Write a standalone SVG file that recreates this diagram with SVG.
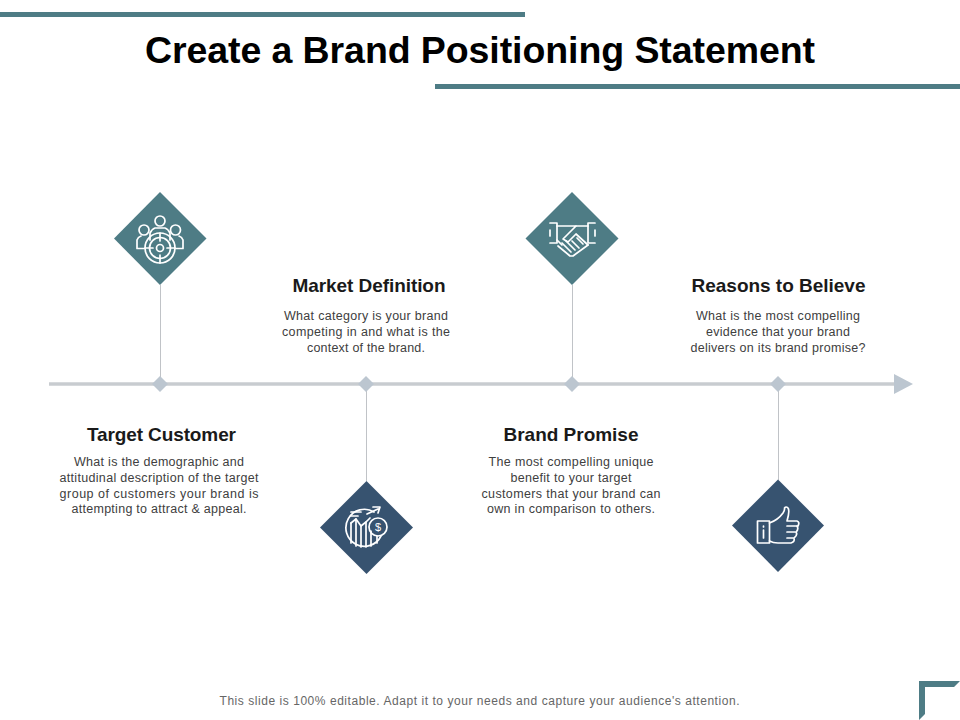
<svg xmlns="http://www.w3.org/2000/svg" width="960" height="720" viewBox="0 0 960 720">
<style>
text{font-family:"Liberation Sans",Arial,sans-serif;text-anchor:middle}
.t{font-size:37.500px;font-weight:700;fill:#000}
.h{font-size:19px;font-weight:700;fill:#1a1a1a}
.b{font-size:12.500px;fill:#404040}
.f{font-size:12px;fill:#666}
.i{fill:none;stroke:#fff;stroke-width:1.700;stroke-linejoin:round;stroke-linecap:round}
.st{stroke:#c0c3c7;stroke-width:1;fill:none}
.bar{fill:#4e7c85}
</style>
<rect width="960" height="720" fill="#fff"/>
<rect class="bar" x="0" y="12" width="525" height="5"/>
<rect class="bar" x="435" y="84" width="525" height="5"/>
<text class="t" x="480" y="62.500" textLength="670" lengthAdjust="spacing">Create a Brand Positioning Statement</text>
<g id="connectors">
<line x1="49" y1="384" x2="896" y2="384" stroke="#c8ccd0" stroke-width="3.500"/>
<polygon points="894,374 913,384 894,394" fill="#bcc6d0"/>
<line class="st" x1="160.500" y1="285" x2="160.500" y2="384"/>
<line class="st" x1="366.500" y1="384" x2="366.500" y2="481"/>
<line class="st" x1="572.500" y1="285" x2="572.500" y2="384"/>
<line class="st" x1="778.500" y1="384" x2="778.500" y2="480"/>
<g fill="#bcc6d0">
<polygon points="160,376 168,384 160,392 152,384"/>
<polygon points="366,376 374,384 366,392 358,384"/>
<polygon points="572,376 580,384 572,392 564,384"/>
<polygon points="778,376 786,384 778,392 770,384"/>
</g>
</g>
<g id="node-target-customer">
<polygon points="160,192 206.500,238.500 160,285 114,238.500" fill="#4e7c85"/>
<g class="i">
<circle cx="160" cy="221" r="5"/><circle cx="144" cy="230" r="5"/><circle cx="175.500" cy="230" r="5"/>
<path d="M150 240V233Q152 229 155 228H165Q168 229 170 233V240"/>
<path d="M137 248.500V240Q138 237 141 236M183 248.500V240Q182 237 179 236M137 248.500H144M183 248.500H176"/>
<circle cx="160" cy="248" r="15"/><circle cx="160" cy="248" r="10.500"/><circle cx="160" cy="248" r="3.500"/>
<path d="M160 233V241M160 255V263M145 248H153M167 248H175"/>
</g>
<text class="h" x="161.500" y="441" textLength="149" lengthAdjust="spacing">Target Customer</text>
<text class="b" x="159" y="466" textLength="170" lengthAdjust="spacing">What is the demographic and</text>
<text class="b" x="159" y="482" textLength="199" lengthAdjust="spacing">attitudinal description of the target</text>
<text class="b" x="159" y="498" textLength="199" lengthAdjust="spacing">group of customers  your brand is</text>
<text class="b" x="159" y="513" textLength="175" lengthAdjust="spacing">attempting to attract &amp; appeal.</text>
</g>
<g id="node-market-definition">
<polygon points="366.500,481 413,527.500 366.500,574 320,527.500" fill="#375370"/>
<g class="i">
<path d="M374 512A18.500 18.500 0 1 0 381 536"/>
<path d="M351 543V523M356 546V519M361 547V526M366 547V522M371 546V531"/>
<path d="M351 523L356 519L361 526L366 522L370 518"/>
<path d="M351 512H361M351 516H358"/>
<path d="M367 514L378 509M373 507L380 507L378 513"/>
<circle cx="378" cy="527" r="9"/>
<path d="M377 536V543"/>
</g>
<text x="378" y="531" font-size="11" fill="#fff">$</text>
<text class="h" x="369" y="292" textLength="153" lengthAdjust="spacing">Market Definition</text>
<text class="b" x="366" y="320" textLength="164" lengthAdjust="spacing">What category is your brand</text>
<text class="b" x="366" y="336" textLength="168" lengthAdjust="spacing">competing in and what is the</text>
<text class="b" x="366" y="352" textLength="118" lengthAdjust="spacing">context of the brand.</text>
</g>
<g id="node-brand-promise">
<polygon points="572,192 618.500,238.500 572,285 525.500,238.500" fill="#4e7c85"/>
<g class="i">
<path d="M550 223H557V243H550M595 223H588V243H595M550 230V236M595 230V236"/>
<path d="M557 226H576L563 239L568 242L576 234L588 245"/>
<path d="M588 226H576M557 240L562 245"/>
<path d="M588 245L573 256H570L558 246"/>
<path d="M562 243L571 252M566 241L575 250M577 238L583 244M572 241L579 248"/>
</g>
<text class="h" x="571" y="441" textLength="135" lengthAdjust="spacing">Brand Promise</text>
<text class="b" x="571" y="466" textLength="165" lengthAdjust="spacing">The most compelling unique</text>
<text class="b" x="571" y="482" textLength="121" lengthAdjust="spacing">benefit to your target</text>
<text class="b" x="571" y="498" textLength="179" lengthAdjust="spacing">customers that your brand can</text>
<text class="b" x="571" y="513" textLength="168" lengthAdjust="spacing">own in comparison to others.</text>
</g>
<g id="node-reasons-to-believe">
<polygon points="778,479.500 824,525.500 778,572 732,525.500" fill="#375370"/>
<g class="i">
<rect x="757.500" y="521" width="12" height="22"/>
<path d="M769.500 523Q778 520 783 513Q785 510 784.500 508Q786 506 788 508Q790 511 787 521H797Q800 522 798 526H797Q799 529 796 532Q798 535 794 538Q795 542 791 543H778Q773 543 769.500 541"/>
<path d="M787 526H797M787 532H795M787 538H793M763.500 530V538M763.500 526V527"/>
</g>
<text class="h" x="778.500" y="292" textLength="174" lengthAdjust="spacing">Reasons to Believe</text>
<text class="b" x="778" y="320" textLength="164" lengthAdjust="spacing">What is the most compelling</text>
<text class="b" x="778" y="336" textLength="144" lengthAdjust="spacing">evidence  that your brand</text>
<text class="b" x="778" y="352" textLength="175" lengthAdjust="spacing">delivers  on its brand promise?</text>
</g>
<text class="f" x="479.500" y="705" textLength="520" lengthAdjust="spacing">This slide is 100% editable. Adapt it to your needs and capture your audience's attention.</text>
<polygon class="bar" points="919,681 960,681 954,687 925,687 925,714 919,720"/>
</svg>
